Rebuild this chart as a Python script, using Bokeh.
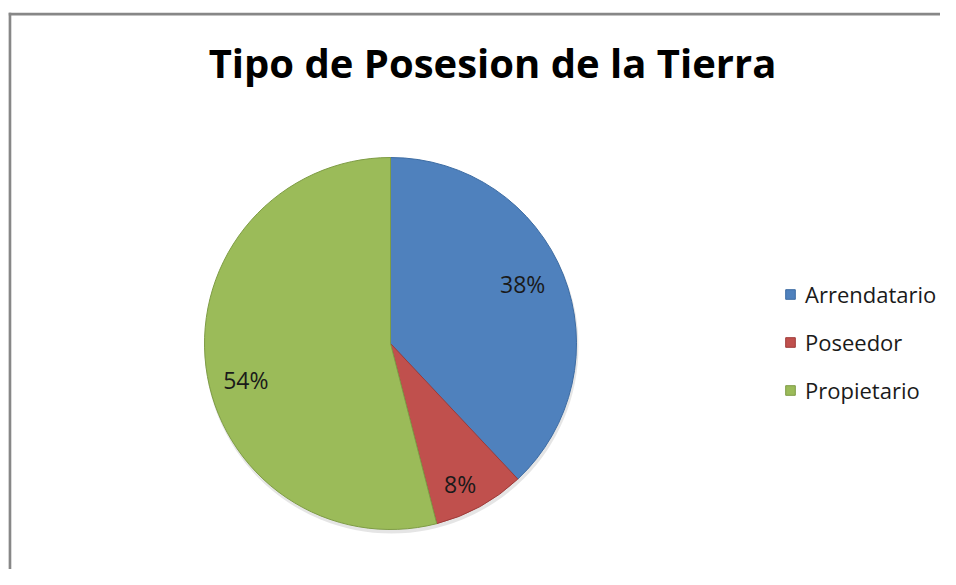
import math
from bokeh.plotting import figure
from bokeh.models import Range1d, Span, ColumnDataSource, Legend, LegendItem
from bokeh.core.properties import value
from bokeh.embed import file_html
from bokeh.resources import INLINE

# ---- data ----
title_text = "Tipo de Posesion de la Tierra"
categories = ["Arrendatario", "Poseedor", "Propietario"]
shares = [38, 8, 54]
pct_labels = ["38%", "8%", "54%"]

# ---- style ----
colors = ["#4F81BD", "#C0504D", "#9BBB59"]
edge_colors = ["#3D6CA3", "#9E3B39", "#7E9C45"]
FONT = "Open Sans"

W, H = 940, 569
LEFT, TOP = 8, 12
FW, FH = W - LEFT, H - TOP

p = figure(width=W, height=H, output_backend="svg", toolbar_location=None,
           x_axis_location=None, y_axis_location=None,
           min_border_left=LEFT, min_border_right=0, min_border_bottom=0, min_border_top=TOP,
           x_range=Range1d(0, FW), y_range=Range1d(0, FH))
p.grid.visible = False
p.outline_line_color = None
p.background_fill_color = "white"
p.border_fill_color = "white"

# chart frame border (left and top visible)
p.add_layout(Span(location=1.3, dimension="height", line_color="#878787", line_width=3))
p.add_layout(Span(location=FH - 1.6, dimension="width", line_color="#878787", line_width=3))

# pie geometry (layout, in frame pixels)
cx, cy, R = 382, 226, 186

total = float(sum(shares))
starts, ends, mids = [], [], []
cum = 0.0
for s in shares:
    a0 = math.pi / 2 - 2 * math.pi * cum / total
    a1 = math.pi / 2 - 2 * math.pi * (cum + s) / total
    starts.append(a0)
    ends.append(a1)
    mids.append((a0 + a1) / 2)
    cum += s

src = ColumnDataSource(dict(category=categories, share=shares, start=starts, end=ends,
                            color=colors, edge=edge_colors))

# soft shadow
p.circle(x=[cx + 1], y=[cy - 3], radius=R + 1, fill_color="black", fill_alpha=0.10, line_color=None)

wr = p.wedge(x=cx, y=cy, radius=R, start_angle="start", end_angle="end", direction="clock",
             fill_color="color", line_color="edge", line_width=1, source=src)

# percentage labels
label_frac = [0.77, 0.855, 0.8]
label_dx = [-1, -7, 3]
label_dy = [-7, 1, 18]
lx = [cx + f * R * math.cos(m) for f, m in zip(label_frac, mids)]
ly = [cy + f * R * math.sin(m) for f, m in zip(label_frac, mids)]
lsrc = ColumnDataSource(dict(x=lx, y=ly, text=pct_labels, dx=label_dx, dy=label_dy))
p.text(x="x", y="y", text="text", x_offset="dx", y_offset="dy", source=lsrc,
       text_font=value(FONT), text_font_size="23px", text_color="#1a1a1a",
       text_align="center", text_baseline="middle")

# title
p.text(x=[492 - LEFT], y=[H - 62], text=[title_text], text_font=value(FONT), text_font_style="bold",
       text_font_size="40px", text_color="black", text_align="center", text_baseline="middle")

# legend
items = [LegendItem(label=c, renderers=[wr], index=i) for i, c in enumerate(categories)]
legend = Legend(items=items, location=(776, 163), orientation="vertical", padding=0, margin=0,
                spacing=16, glyph_width=12, glyph_height=12, label_standoff=9,
                label_text_font=FONT, label_text_font_size="22px", label_height=32,
                label_text_color="#1a1a1a", border_line_color=None, background_fill_alpha=0)
p.add_layout(legend)

open("out.html", "w").write(file_html(p, INLINE))
